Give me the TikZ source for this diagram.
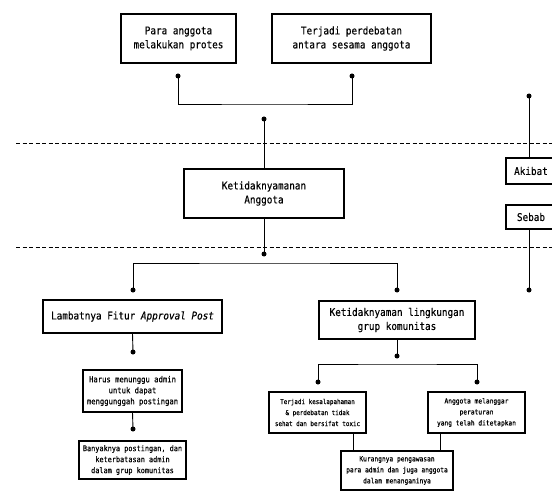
\documentclass[tikz,border=0pt]{standalone}
\usepackage{fontspec}
\setmonofont[FakeStretch=0.88, FakeBold=0.4]{DejaVu Sans Mono}
\usetikzlibrary{positioning}

\begin{document}
\begin{tikzpicture}[x=1pt, y=-1pt,
    box/.style={draw, line width=1.2pt, align=center, inner sep=1pt,
      font=\ttfamily\fontsize{10.6}{14}\selectfont},
    smallbox/.style={box, line width=1.1pt,
      font=\ttfamily\fontsize{#1}{11}\selectfont},
    smallbox/.default=8.2,
    dot/.style={circle, fill, inner sep=0pt, minimum size=5pt},
    link/.style={line width=0.9pt},
    sep/.style={dash pattern=on 4pt off 2.5pt, line width=0.9pt}]
  \useasboundingbox (0,0) rectangle (552,492);
  % separators
  \draw[sep] (16,143) -- (552,143);
  \draw[sep] (16,247) -- (552,247);
  % akibat
  \node[box, minimum width=115pt, minimum height=49pt] (protes) at (178.5,38.5) {Para anggota\\melakukan protes};
  \node[box, minimum width=159pt, minimum height=49pt] (debat) at (351.5,38.5) {Terjadi perdebatan\\antara sesama anggota};
  \node[box, minimum width=160pt, minimum height=49pt] (tidaknyaman) at (264,193.5) {Ketidaknyamanan\\Anggota};
  % legend
  \node[box, minimum width=50pt, minimum height=26pt] (akibat) at (531,171) {Akibat};
  \node[box, minimum width=50pt, minimum height=24pt] (sebab) at (531,217) {Sebab};
  % sebab
  \node[box, minimum width=179pt, minimum height=33pt] (lambat) at (132.5,316.5) {Lambatnya Fitur \textit{Approval Post}};
  \node[box, minimum width=156pt, minimum height=38pt] (lingkungan) at (397,320) {Ketidaknyaman lingkungan\\grup komunitas};
  \node[smallbox, minimum width=99pt, minimum height=42pt] (tunggu) at (132.5,391) {Harus menunggu admin\\untuk dapat\\menggunggah postingan};
  \node[smallbox=7.8, minimum width=107pt, minimum height=38pt] (banyak) at (132.5,460) {Banyaknya postingan, dan\\keterbatasan admin\\dalam grup komunitas};
  \node[smallbox=6.7, minimum width=97pt, minimum height=41pt] (salah) at (317.5,412.5) {Terjadi kesalapahaman\\\& perdebatan tidak\\sehat dan bersifat toxic};
  \node[smallbox=7.1, minimum width=97pt, minimum height=41pt] (langgar) at (476.5,412.5) {Anggota melanggar\\peraturan\\yang telah ditetapkan};
  \node[smallbox=7.1, minimum width=112pt, minimum height=39pt] (awas) at (397,470.5) {Kurangnya pengawasan\\para admin dan juga anggota\\dalam menanganinya};
  % dots
  \node[dot] (d1) at (178,76) {};
  \node[dot] (d2) at (352,76) {};
  \node[dot] (d3) at (264,119) {};
  \node[dot] (d4) at (264,254) {};
  \node[dot] (d5) at (133,290) {};
  \node[dot] (d6) at (397,290) {};
  \node[dot] (d7) at (133,352) {};
  \node[dot] (d8) at (133,429) {};
  \node[dot] (d9) at (397,356) {};
  \node[dot] (d10) at (318,382) {};
  \node[dot] (d11) at (477,382) {};
  \node[dot] (d12) at (529,96) {};
  \node[dot] (d13) at (529,290) {};
  \coordinate (j1) at (264,104);
  \coordinate (j2) at (264,263);
  \coordinate (j3) at (397,364);
  % connectors
  \draw[link] (d1.center) |- (j1) -| (d2.center);
  \draw[link] (d3.center) -- (tidaknyaman.north);
  \draw[link] (tidaknyaman.south) -- (d4.center);
  \draw[link] (d5.center) |- (j2) -| (d6.center);
  \draw[link] (lambat.south) -- (d7.center);
  \draw[link] (tunggu.south) -- (d8.center);
  \draw[link] (lingkungan.south) -- (d9.center);
  \draw[link] (d10.center) |- (j3) -| (d11.center);
  \draw[link] (salah.south -| 353,0) -- (awas.north -| 353,0);
  \draw[link] (langgar.south -| 440,0) -- (awas.north -| 440,0);
  \draw[link] (d12.center) -- (akibat.north -| d12);
  \draw[link] (sebab.south -| d13) -- (d13.center);
\end{tikzpicture}
\end{document}
